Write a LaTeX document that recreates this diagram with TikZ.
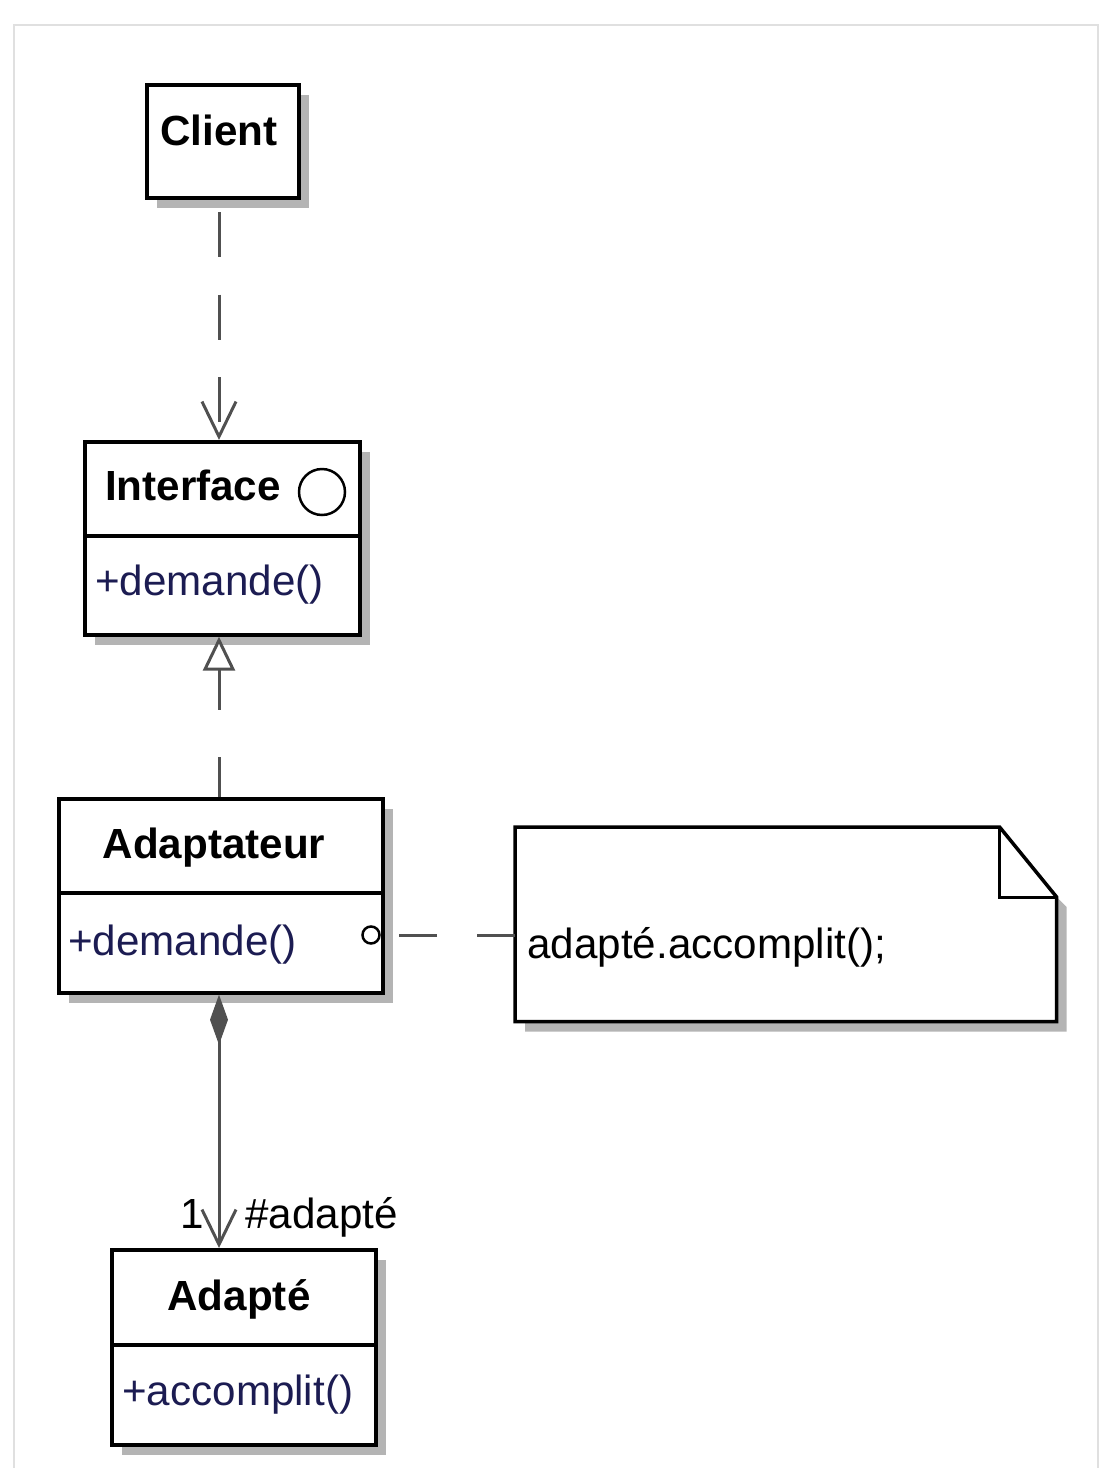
\documentclass[tikz,border=0pt]{standalone}
\usepackage{fontspec}
\setmainfont{Liberation Sans}
\usetikzlibrary{arrows.meta,shadows,calc}
\definecolor{opcol}{RGB}{28,28,82}
\definecolor{linkcol}{RGB}{80,80,80}
\definecolor{shadecol}{RGB}{180,180,180}
\begin{document}
\begin{tikzpicture}[
x=0.02cm,y=-0.02cm,
cls/.style={draw,line width=0.075cm,fill=white,anchor=north west,inner sep=0pt,
  drop shadow={shadow xshift=0.2cm,shadow yshift=-0.2cm,fill=shadecol,opacity=1}},
title/.style={font=\fontsize{24}{28}\selectfont\bfseries,anchor=base,inner sep=0pt},
oper/.style={font=\fontsize{24}{28}\selectfont,text=opcol,anchor=base west,inner sep=0pt},
lbl/.style={font=\fontsize{24}{28}\selectfont,anchor=base west,inner sep=0pt},
link/.style={draw=linkcol,line width=0.06cm},
]
\useasboundingbox (0,0) rectangle (1114,1468);
\draw[black!12,line width=0.04cm] (14,1468) -- (14,25) -- (1098,25) -- (1098,1468);
\coordinate (axis) at (219,0);

% classes
\node[cls,minimum width=3.04cm,minimum height=2.26cm] (client) at (145,83) {};
\node[title] (client-t) at (219,145) {Client};

\node[cls,minimum width=5.5cm,minimum height=3.86cm] (iface) at (83,440) {};
\node[title] (iface-t) at (193,500) {Interface};
\node[draw,circle,line width=0.05cm,minimum size=0.92cm,inner sep=0pt] (iface-c) at (322,492) {};
\draw[line width=0.075cm] ($(iface.north west)+(0,96)$) -- ($(iface.north east)+(0,96)$);
\node[oper] (iface-op) at (95,595) {+demande()};

\node[cls,minimum width=6.48cm,minimum height=3.88cm] (adapt) at (57,797) {};
\node[title] (adapt-t) at (214,858) {Adaptateur};
\draw[line width=0.075cm] ($(adapt.north west)+(0,96)$) -- ($(adapt.north east)+(0,96)$);
\node[oper] (adapt-op) at (68,955) {+demande()};
\node[draw,circle,fill=white,line width=0.05cm,minimum size=0.34cm,inner sep=0pt] (adapt-c) at (371,935) {};

\node[cls,minimum width=5.28cm,minimum height=3.9cm] (adapte) at (110,1248) {};
\node[title] (adapte-t) at (239,1310) {Adapté};
\draw[line width=0.075cm] ($(adapte.north west)+(0,97)$) -- ($(adapte.north east)+(0,97)$);
\node[oper] (adapte-op) at (122,1405) {+accomplit()};

% note
\node[anchor=north west,minimum width=10.82cm,minimum height=3.88cm,inner sep=0pt] (note) at (515,827) {};
\fill[shadecol] ($(note.north east)+(10,80)$) -- ($(note.south east)+(10,10)$)
    -- ($(note.south west)+(10,10)$) -- ($(note.south west)+(10,0)$)
    -- (note.south east) -- ($(note.north east)+(0,70)$) -- cycle;
\draw[line width=0.07cm,fill=white,line join=miter] (note.north west) -- ($(note.north east)+(-57,0)$)
    -- ($(note.north east)+(0,70)$) -- (note.south east) -- (note.south west) -- cycle;
\draw[line width=0.06cm] ($(note.north east)+(-57,0)$) |- ($(note.north east)+(0,70)$);
\node[lbl] (note-t) at (527,958) {adapté.accomplit();};

% connectors
\draw[link,dash pattern=on 0.9cm off 0.75cm,dash phase=1.4cm,-{Straight Barb[length=0.7cm,width=0.68cm]}]
    (client.south -| axis) -- (iface.north -| axis);
\draw[link,dash pattern=on 0.8cm off 0.95cm,-{Triangle[open,length=0.68cm,width=0.64cm,fill=white]}]
    (adapt.north -| axis) -- (iface.south -| axis);
\draw[link,dash pattern=on 0.76cm off 0.8cm] (adapt-c -| note.west) -- (adapt-c -| adapt.east);
\draw[link,{Diamond[length=1cm,width=0.36cm]}-{Straight Barb[length=0.7cm,width=0.68cm]}]
    (adapt.south -| axis) -- (adapte.north -| axis);
\node[lbl] (mult) at (180,1228) {1};
\node[lbl] (role) at (245,1228) {\#adapté};
\end{tikzpicture}
\end{document}
